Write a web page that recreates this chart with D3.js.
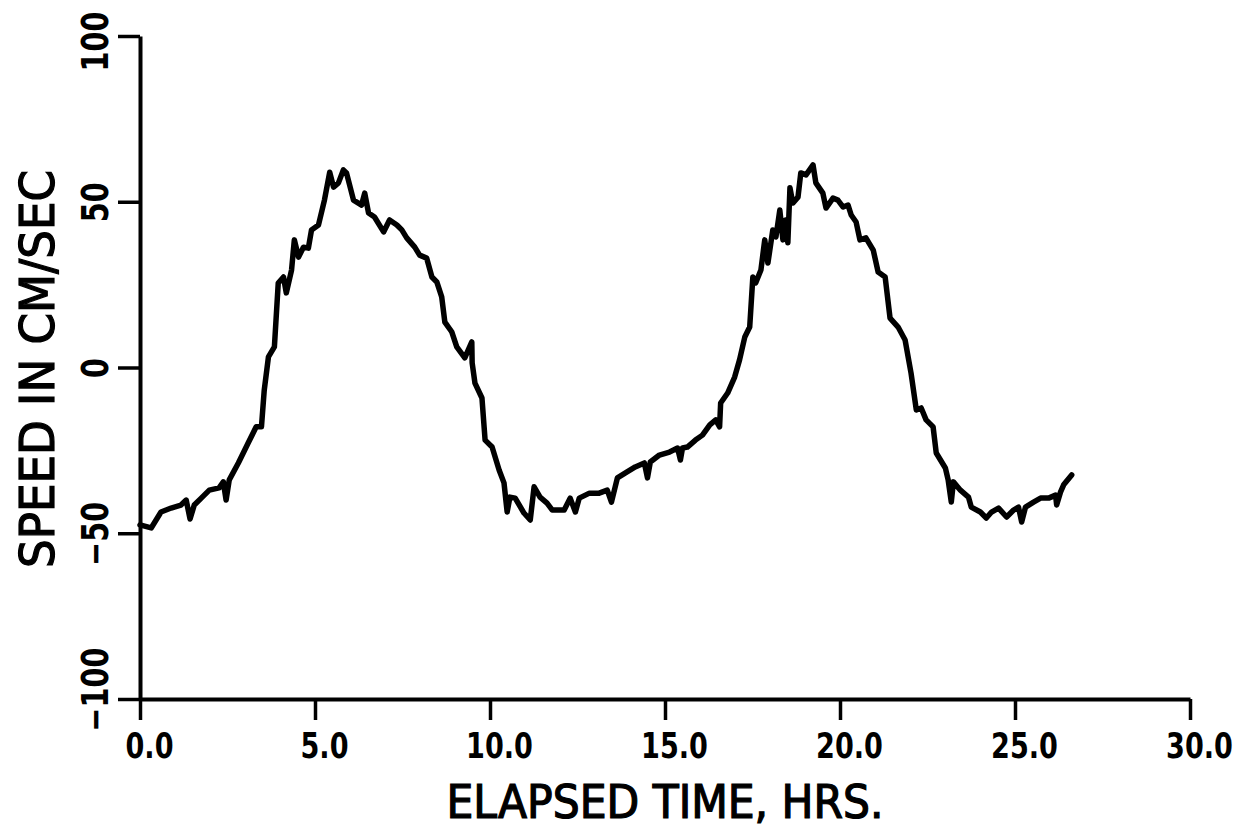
<!DOCTYPE html>
<html>
<head>
<meta charset="utf-8">
<script src="https://cdn.jsdelivr.net/npm/d3@7"></script>
<style>
  body { margin: 0; background: #fff; }
  svg { display: block; background: #fff; }
</style>
</head>
<body>
<div id="chart"></div>
<script>
// elapsed time (hrs) and speed (cm/sec)
const hours = [
  0.00, 0.32, 0.60, 0.89, 1.17, 1.32, 1.43, 1.55, 1.75, 1.98,
  2.26, 2.38, 2.46, 2.55, 2.81, 3.09, 3.32, 3.47, 3.55, 3.67,
  3.84, 3.95, 4.10, 4.18, 4.33, 4.41, 4.53, 4.67, 4.81, 4.90,
  5.10, 5.27, 5.42, 5.53, 5.67, 5.81, 5.90, 6.10, 6.33, 6.42,
  6.53, 6.70, 6.96, 7.13, 7.34, 7.48, 7.62, 7.85, 7.99, 8.19,
  8.34, 8.48, 8.62, 8.71, 8.91, 9.05, 9.28, 9.48, 9.49, 9.57,
  9.77, 9.86, 10.06, 10.26, 10.40, 10.49, 10.57, 10.72, 10.97, 11.15,
  11.26, 11.43, 11.63, 11.78, 12.12, 12.29, 12.44, 12.55, 12.84, 13.12,
  13.35, 13.47, 13.64, 13.87, 14.15, 14.41, 14.50, 14.58, 14.84, 15.13,
  15.36, 15.44, 15.50, 15.64, 15.87, 16.07, 16.28, 16.45, 16.56, 16.59,
  16.79, 16.99, 17.13, 17.28, 17.42, 17.51, 17.59, 17.74, 17.85, 17.94,
  18.08, 18.17, 18.28, 18.37, 18.45, 18.51, 18.57, 18.65, 18.80, 18.88,
  19.03, 19.23, 19.31, 19.51, 19.60, 19.80, 19.94, 20.09, 20.23, 20.32,
  20.46, 20.57, 20.74, 20.95, 21.09, 21.29, 21.43, 21.66, 21.86, 22.03,
  22.18, 22.32, 22.46, 22.66, 22.75, 23.01, 23.09, 23.18, 23.24, 23.44,
  23.67, 23.75, 24.01, 24.18, 24.33, 24.53, 24.76, 24.96, 25.10, 25.19,
  25.30, 25.53, 25.73, 25.96, 26.16, 26.19, 26.30, 26.39, 26.62
];
const speed = [
  -47.5, -48.4, -43.6, -42.4, -41.5, -40.0, -45.7, -41.5, -39.4, -37.0,
  -36.3, -34.5, -40.0, -33.9, -28.8, -22.8, -17.9, -17.9, -6.8, 3.2,
  6.2, 25.5, 27.3, 22.5, 29.4, 38.5, 33.3, 36.3, 36.0, 41.5,
  43.0, 50.5, 58.9, 54.4, 55.7, 59.6, 58.7, 50.5, 49.0, 52.6,
  46.6, 45.4, 40.9, 44.5, 43.0, 41.5, 39.1, 36.3, 33.9, 33.0,
  27.3, 25.8, 21.3, 13.7, 10.7, 6.2, 2.9, 7.7, 1.4, -4.7,
  -9.2, -21.9, -24.0, -30.9, -34.8, -43.6, -39.1, -39.4, -43.9, -46.0,
  -36.0, -39.1, -40.9, -43.0, -43.0, -39.4, -43.6, -39.4, -37.9, -37.9,
  -37.0, -40.6, -33.3, -31.8, -30.0, -28.8, -33.3, -28.5, -26.4, -25.5,
  -24.3, -27.9, -24.3, -24.0, -21.9, -20.4, -17.3, -15.8, -17.9, -10.7,
  -7.7, -2.9, 2.3, 9.2, 12.2, 27.3, 25.5, 29.4, 38.5, 31.5,
  41.5, 39.4, 47.5, 38.5, 44.5, 37.6, 54.2, 49.6, 51.4, 58.7,
  58.1, 61.1, 55.7, 52.6, 48.1, 51.1, 50.5, 48.4, 49.0, 46.0,
  43.9, 38.5, 39.1, 35.4, 28.8, 27.3, 14.9, 12.2, 8.3, -1.7,
  -12.8, -12.2, -15.8, -17.9, -25.8, -30.3, -33.9, -40.6, -34.5, -37.0,
  -39.1, -42.1, -43.6, -45.4, -43.6, -42.4, -45.1, -43.0, -42.1, -46.6,
  -42.1, -40.6, -39.4, -39.4, -38.5, -41.5, -37.6, -35.4, -32.4
];

const xTickValues = [0, 5, 10, 15, 20, 25, 30];
const xTickLabels = ["0.0", "5.0", "10.0", "15.0", "20.0", "25.0", "30.0"];
const yTickValues = [-100, -50, 0, 50, 100];
const yTickLabels = ["\u2212100", "\u221250", "0", "50", "100"];

const width = 1251, height = 831;
const tickFont = "'DejaVu Sans Condensed', 'DejaVu Sans', sans-serif";
const titleFont = "'DejaVu Sans Condensed', 'DejaVu Sans', sans-serif";

const svg = d3.select("#chart").append("svg")
    .attr("width", width)
    .attr("height", height);

const x = d3.scaleLinear().domain([0, 30]).range([140, 1190]);
const y = d3.scaleLinear().domain([-100, 100]).range([699, 36]);

// squeeze text a bit, the plotter lettering is narrow
function narrow(sel, f) {
    sel.each(function() {
        const w = this.getComputedTextLength();
        d3.select(this).attr("textLength", w * f).attr("lengthAdjust", "spacingAndGlyphs");
    });
}

// x axis
const xAxis = svg.append("g")
    .attr("transform", `translate(0,${y(-100)})`)
    .call(d3.axisBottom(x)
        .tickValues(xTickValues)
        .tickFormat((d, i) => xTickLabels[i])
        .tickSize(21)
        .tickSizeOuter(0));

xAxis.select(".domain").attr("stroke", "#000").attr("stroke-width", 4);
xAxis.selectAll(".tick line").attr("stroke", "#000").attr("stroke-width", 3.5);
xAxis.selectAll(".tick text")
    .attr("y", 59)
    .attr("dy", 0)
    .attr("dx", 9)
    .attr("fill", "#000")
    .style("font-family", tickFont)
    .style("font-weight", "bold")
    .style("font-size", "35px")
    .call(narrow, 0.86);

// y axis
const yAxis = svg.append("g")
    .attr("transform", `translate(${x(0)},0)`)
    .call(d3.axisLeft(y)
        .tickValues(yTickValues)
        .tickFormat((d, i) => yTickLabels[i])
        .tickSize(22)
        .tickSizeOuter(0));

yAxis.select(".domain").attr("stroke", "#000").attr("stroke-width", 4);
yAxis.selectAll(".tick line").attr("stroke", "#000").attr("stroke-width", 3.5);
yAxis.selectAll(".tick text")
    .attr("transform", "rotate(-90)")
    .attr("x", d => d === -100 ? 10 : d === 100 ? -5 : 0)
    .attr("y", -32)
    .attr("dy", 0)
    .attr("text-anchor", "middle")
    .attr("fill", "#000")
    .style("font-family", tickFont)
    .style("font-weight", "bold")
    .style("font-size", "37px")
    .call(narrow, 0.86);

// the speed trace
const line = d3.line()
    .x((d, i) => x(hours[i]))
    .y(d => y(d));

svg.append("path")
    .datum(speed)
    .attr("d", line)
    .attr("fill", "none")
    .attr("stroke", "#000")
    .attr("stroke-width", 5.5)
    .attr("stroke-linejoin", "round")
    .attr("stroke-linecap", "round");

// axis titles
svg.append("text")
    .attr("x", 665)
    .attr("y", 818)
    .attr("text-anchor", "middle")
    .attr("textLength", 437)
    .attr("lengthAdjust", "spacingAndGlyphs")
    .style("font-family", titleFont)
    .style("font-size", "46px")
    .attr("fill", "#000")
    .attr("stroke", "#000")
    .attr("stroke-width", 1.2)
    .text("ELAPSED TIME, HRS.");

svg.append("text")
    .attr("transform", "translate(54,369) rotate(-90)")
    .attr("text-anchor", "middle")
    .attr("textLength", 398)
    .attr("lengthAdjust", "spacingAndGlyphs")
    .style("font-family", titleFont)
    .style("font-size", "48px")
    .attr("fill", "#000")
    .attr("stroke", "#000")
    .attr("stroke-width", 1.2)
    .text("SPEED IN CM/SEC");
</script>
</body>
</html>
